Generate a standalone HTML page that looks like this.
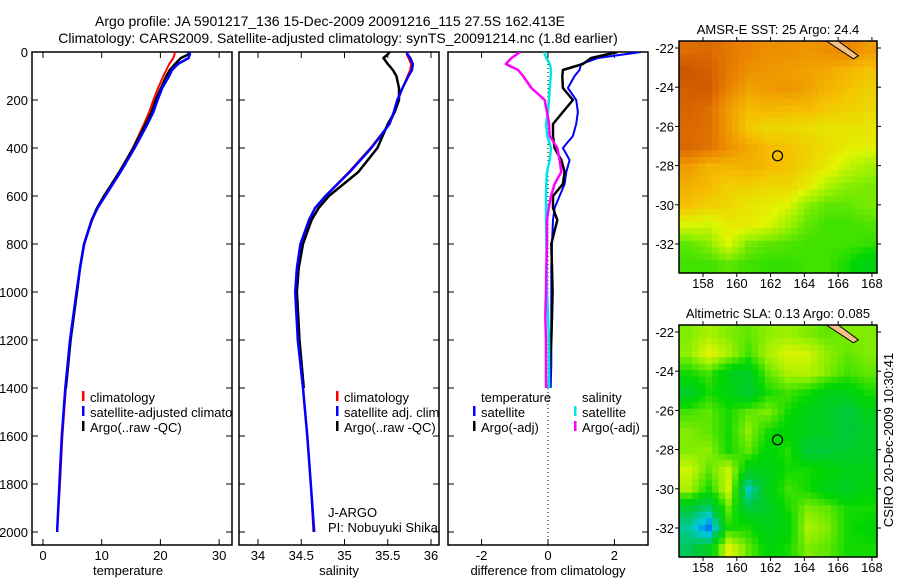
<!DOCTYPE html>
<html><head><meta charset="utf-8"><style>
body{margin:0;background:#fff;}
svg{display:block;font-family:"Liberation Sans",sans-serif;}
text{font-size:13px;fill:#000;}
</style></head><body>
<svg id="c" width="900" height="580" viewBox="0 0 900 580" xmlns="http://www.w3.org/2000/svg">
<g id="g"></g>
</svg>
<script>
// ---- data ----
const depths=[0,10,25,50,75,100,150,200,250,300,400,500,600,650,700,800,900,1000,1200,1400,1600,1800,2000];
const climT=[22.5,22.4,22.2,21.5,21,20.5,19.6,18.8,18.1,17.2,15.3,13.0,10.5,9.3,8.4,7.0,6.3,5.8,4.7,3.9,3.3,2.9,2.4];
const satT=[25,25,24.8,23,22,21.5,20.3,19.5,18.8,17.8,15.6,13.2,10.6,9.3,8.3,7.0,6.3,5.7,4.6,3.8,3.2,2.8,2.4];
const argoT=[24.8,24.8,23.5,22.5,21.6,21.0,20.1,19.2,18.5,17.5,15.4,13.0,10.4,9.2,8.3,7.0,6.3,5.8,4.7,3.9];
const climS=[35.72,35.72,35.74,35.77,35.76,35.73,35.67,35.62,35.58,35.52,35.3,35.05,34.78,34.66,34.6,34.5,34.46,34.44,34.47,34.52,34.57,34.61,34.64];
const satS=[35.72,35.73,35.76,35.79,35.78,35.74,35.67,35.61,35.57,35.52,35.31,35.06,34.78,34.66,34.59,34.49,34.45,34.43,34.46,34.52,34.57,34.61,34.65];
const argoS=[35.52,35.5,35.45,35.5,35.56,35.6,35.63,35.63,35.58,35.5,35.38,35.16,34.82,34.7,34.62,34.52,34.47,34.45,34.48,34.53];
const diffDepths=[0,25,50,75,100,150,200,250,300,350,400,450,500,550,600,650,700,800,900,1000,1100,1200,1300,1400];
const tempSatDiff=[2.8,1.5,1.0,0.95,0.8,0.6,0.85,0.9,0.85,0.75,0.45,0.65,0.55,0.5,0.35,0.2,0.15,0.12,0.1,0.1,0.1,0.1,0.1,0.08];
const tempArgoDiff=[2.1,1.3,1.05,0.45,0.43,0.45,0.75,0.45,0.15,0.15,0.2,0.4,0.5,0.45,0.15,0.15,0.28,0.1,0.12,0.14,0.12,0.1,0.05,0.02];
const salSatDiff=[-0.12,-0.05,0.05,0.09,0.08,0.05,0.03,0.0,-0.06,-0.02,0.09,0.05,-0.03,-0.05,-0.06,-0.06,-0.06,-0.05,-0.04,-0.03,0.0,0.03,0.03,0.03];
const salArgoDiff=[-0.84,-1.1,-1.27,-0.9,-0.75,-0.5,-0.1,-0.03,0.03,0.05,0.28,0.35,0.4,0.2,0.09,0.02,-0.03,-0.03,-0.05,-0.06,-0.08,-0.06,-0.06,-0.06];
const depthTicks=[0,200,400,600,800,1000,1200,1400,1600,1800,2000];
const tTicks=[0,10,20,30];
const sTicks=[34,34.5,35,35.5,36];
const dTicks=[-2,0,2];
const lonTicks=[158,160,162,164,166,168];
const latTicks=[-22,-24,-26,-28,-30,-32];
const sstGrid=[
[26.2,26.3,26,25.8,25.6,25.6,25.5,25.6,25.8,25.4],
[26.7,26.5,26,25.6,25.5,25.4,25.3,25.2,25.0,24.8],
[26.5,26.6,25.8,25.3,25.4,25.5,25.3,25.0,24.8,24.6],
[26.4,26.2,25.4,24.9,25.0,24.9,24.9,24.7,24.6,24.5],
[26.3,26.2,25.4,24.7,24.5,24.5,24.4,24.3,24.3,24.3],
[26.3,26.1,25.6,25.2,24.9,24.8,24.6,24.4,24.2,24.1],
[25.4,25.0,25.0,25.1,24.9,24.8,24.5,24.2,23.8,23.5],
[25.1,24.9,24.6,24.6,24.5,24.5,24.2,23.6,23.3,23.2],
[24.8,24.6,24.5,24.3,24.2,24.0,23.3,23.0,23.0,23.2],
[24.0,23.9,24.2,24.2,24.0,23.5,23.0,22.8,22.8,22.9],
[23.0,23.3,24.0,23.2,23.0,22.9,22.8,22.8,22.8,22.7],
[22.8,22.8,23.0,22.8,22.7,22.7,22.8,22.8,22.5,22.0]];
const slaGrid=[
[0.12,0.15,0.12,0.10,0.13,0.14,0.12,0.10,0.12,0.12],
[0.13,0.20,0.15,0.08,0.15,0.19,0.18,0.13,0.10,0.12],
[0.05,0.08,0.00,-0.02,0.10,0.15,0.16,0.12,0.08,0.10],
[-0.03,0.05,0.02,-0.04,0.05,0.08,0.05,0.00,0.00,0.05],
[0.08,0.10,0.05,0.10,0.12,0.05,0.00,-0.02,-0.06,0.00],
[0.12,0.10,0.05,0.13,0.05,0.02,0.00,-0.02,-0.06,-0.02],
[0.12,0.13,0.05,0.10,0.02,0.06,-0.05,-0.05,-0.03,-0.02],
[0.18,0.10,0.17,0.00,0.00,0.05,0.05,0.03,0.00,0.00],
[0.15,0.05,0.18,-0.15,0.00,0.08,0.05,0.00,-0.02,0.02],
[-0.05,-0.10,0.10,-0.05,-0.02,0.05,0.12,0.10,0.05,0.05],
[-0.12,-0.25,0.05,0.05,0.00,0.02,0.15,0.12,0.05,0.03],
[-0.08,-0.02,0.20,0.10,0.02,0.05,0.12,0.10,0.05,0.05]];
const argoLon=162.413, argoLat=-27.5;

// ---- helpers ----
const NS="http://www.w3.org/2000/svg";
const G=document.getElementById('g');
function mk(tag,attrs,parent){const e=document.createElementNS(NS,tag);for(const k in attrs)e.setAttribute(k,attrs[k]);(parent||G).appendChild(e);return e;}
function txt(x,y,s,anchor,parent){const t=mk('text',{x:x,y:y,'text-anchor':anchor||'start'},parent);t.textContent=s;return t;}
const TOP=52,BOT=545;
const yD=d=>52+0.24*d;
const xT=v=>43+5.87*v;
const xS=v=>258+86.5*(v-34);
const xD=v=>548+33.2*v;
const P=[{l:32,r:232},{l:239,r:439},{l:448,r:648}];

function panel(i,name,xf,ticks,label,lblX){
  const p=P[i];
  const b=mk('rect',{x:p.l,y:TOP,width:p.r-p.l,height:BOT-TOP,fill:'none',stroke:'#000','stroke-width':1.5});
  
  
  depthTicks.forEach(d=>{
    mk('line',{x1:p.l,x2:p.l+6,y1:yD(d),y2:yD(d),stroke:'#000'});
    mk('line',{x1:p.r-6,x2:p.r,y1:yD(d),y2:yD(d),stroke:'#000'});
  });
  ticks.forEach(v=>{
    mk('line',{x1:xf(v),x2:xf(v),y1:TOP,y2:TOP+6,stroke:'#000'});
    mk('line',{x1:xf(v),x2:xf(v),y1:BOT-6,y2:BOT,stroke:'#000'});
    const t=txt(xf(v),560,String(v),'middle');
    
    
  });
  const lt=txt(lblX,575,label,'middle');
  
  
}
function line(xs,ds,xf,color,w,name,clipId){
  const pts=xs.map((v,i)=>xf(v).toFixed(1)+','+yD(ds[i]).toFixed(1)).join(' ');
  const pl=mk('polyline',{points:pts,fill:'none',stroke:color,'stroke-width':w,'stroke-linejoin':'round','clip-path':'url(#'+clipId+')'});
  
  
}
const defs=mk('defs',{});
P.forEach((p,i)=>{const c=mk('clipPath',{id:'cp'+i},defs);mk('rect',{x:p.l,y:TOP,width:p.r-p.l,height:BOT-TOP},c);});

// title
const t1=txt(330,26,'Argo profile: JA 5901217_136 15-Dec-2009 20091216_115 27.5S 162.413E','middle');


t1.setAttribute('style','font-size:14px');
const t2=txt(338,43,'Climatology: CARS2009. Satellite-adjusted climatology: synTS_20091214.nc (1.8d earlier)','middle');


t2.setAttribute('style','font-size:14px');

panel(0,'temperature-panel',xT,tTicks,'temperature',128);
panel(1,'salinity-panel',xS,sTicks,'salinity',339);
panel(2,'difference-panel',xD,dTicks,'difference from climatology',548);
depthTicks.forEach(d=>{
  const t=txt(28,yD(d)+5,String(d),'end');
  
  
});

// profiles
line(climT,depths,xT,'#ff0000',2,'temperature-climatology-line','cp0');
line(argoT,depths,xT,'#000',2.5,'temperature-argo-line','cp0');
line(satT,depths,xT,'#0000ff',2.5,'temperature-satellite-line','cp0');
line(climS,depths,xS,'#ff0000',2,'salinity-climatology-line','cp1');
line(argoS,depths,xS,'#000',2.5,'salinity-argo-line','cp1');
line(satS,depths,xS,'#0000ff',2.5,'salinity-satellite-line','cp1');
const zl=mk('line',{x1:xD(0),x2:xD(0),y1:TOP,y2:BOT,stroke:'#000','stroke-dasharray':'1,3'});


line(tempSatDiff,diffDepths,xD,'#0000ff',2,'temperature-satellite-diff-line','cp2');
line(tempArgoDiff,diffDepths,xD,'#000',2.5,'temperature-argo-diff-line','cp2');
line(salSatDiff,diffDepths,xD,'#00e5e5',2.5,'salinity-satellite-diff-line','cp2');
line(salArgoDiff,diffDepths,xD,'#ff00ff',2.5,'salinity-argo-diff-line','cp2');

// legends
function leg(x,y,color,label,name,clip){
  const g=mk('g',{'clip-path':clip?'url(#'+clip+')':''});
  
  
  if(color)mk('rect',{x:x,y:y-11,width:2.5,height:10,fill:color},g);
  txt(x+8,y,label,'start',g);
}
leg(82,402,'#ff0000','climatology','legend-climatology','cp0');
leg(82,417,'#0000ff','satellite-adjusted climatology','legend-satellite-adjusted','cp0');
leg(82,432,'#000','Argo(..raw -QC)','legend-argo','cp0');
leg(336,402,'#ff0000','climatology','legend-sal-climatology','cp1');
leg(336,417,'#0000ff','satellite adj. clim.','legend-sal-satellite','cp1');
leg(336,432,'#000','Argo(..raw -QC)','legend-sal-argo','cp1');
leg(320,517,null,'J-ARGO','program-label','cp1');
leg(320,532,null,'PI: Nobuyuki Shikama','pi-label','cp1');
leg(473,402,null,'temperature','legend-temperature-header','cp2');
leg(473,417,'#0000ff','satellite','legend-temp-satellite','cp2');
leg(473,432,'#000','Argo(-adj)','legend-temp-argo','cp2');
leg(574,402,null,'salinity','legend-salinity-header','cp2');
leg(574,417,'#00e5e5','satellite','legend-sal-sat-diff','cp2');
leg(574,432,'#ff00ff','Argo(-adj)','legend-sal-argo-diff','cp2');

// maps
const ML=679,MR=877,LON0=156.58,LON1=168.3;
const xLon=v=>ML+(v-LON0)*(MR-ML)/(LON1-LON0);
const stops=[[0,[0,80,255]],[0.18,[0,200,220]],[0.32,[0,200,60]],[0.45,[0,215,0]],[0.58,[150,240,0]],[0.66,[225,245,0]],[0.76,[245,190,0]],[0.88,[235,130,0]],[1,[200,80,0]]];
function cmap(f){f=Math.max(0,Math.min(1,f));for(let i=1;i<stops.length;i++){if(f<=stops[i][0]){const a=stops[i-1],b=stops[i],t=(f-a[0])/(b[0]-a[0]);return 'rgb('+a[1].map((c,k)=>Math.round(c+(b[1][k]-c)*t)).join(',')+')';}}return 'rgb(200,80,0)';}
function sample(grid,fr,fc){ // bilinear display smoothing between cell centres
  const R=grid.length,C=grid[0].length;
  fr=Math.max(0,Math.min(R-1,fr));fc=Math.max(0,Math.min(C-1,fc));
  const r0=Math.floor(fr),c0=Math.floor(fc),r1=Math.min(R-1,r0+1),c1=Math.min(C-1,c0+1),a=fr-r0,b=fc-c0;
  return grid[r0][c0]*(1-a)*(1-b)+grid[r0][c1]*(1-a)*b+grid[r1][c0]*a*(1-b)+grid[r1][c1]*a*b;
}
function map(top,bot,lat22,grid,vmin,vmax,title,name){
  const yLat=v=>lat22+(-22-v)*19.6;
  const rows=grid.length,cols=grid[0].length,S=3;
  const cw=(MR-ML)/(cols*S),ch=(bot-top)/(rows*S);
  const g=mk('g',{});
  
  
  for(let r=0;r<rows*S;r++)for(let c=0;c<cols*S;c++){
    const v=sample(grid,(r+0.5)/S-0.5,(c+0.5)/S-0.5);
    const cell=mk('rect',{x:(ML+c*cw).toFixed(1),y:(top+r*ch).toFixed(1),width:(cw+0.6).toFixed(1),height:(ch+0.6).toFixed(1),fill:cmap((v-vmin)/(vmax-vmin))},g);
    
    
  }
  const land=mk('polygon',{points:[[xLon(165.3),top],[xLon(166.0),top],[xLon(167.2),yLat(-22.4)],[xLon(166.9),yLat(-22.55)]].map(p=>p.join(',')).join(' '),fill:'#f5c08a',stroke:'#000'});
  
  
  const fr=mk('rect',{x:ML,y:top,width:MR-ML,height:bot-top,fill:'none',stroke:'#000','stroke-width':1.5});
  
  
  const ci=mk('circle',{cx:xLon(argoLon),cy:yLat(argoLat),r:5,fill:'none',stroke:'#000','stroke-width':1.2});
  
  
  lonTicks.forEach(v=>{
    mk('line',{x1:xLon(v),x2:xLon(v),y1:top-4,y2:top,stroke:'#000'});
    mk('line',{x1:xLon(v),x2:xLon(v),y1:bot,y2:bot+4,stroke:'#000'});
    const t=txt(xLon(v),bot+15,String(v),'middle');
    
    
  });
  latTicks.forEach(v=>{
    mk('line',{x1:ML-4,x2:ML,y1:yLat(v),y2:yLat(v),stroke:'#000'});
    mk('line',{x1:MR,x2:MR+4,y1:yLat(v),y2:yLat(v),stroke:'#000'});
    const t=txt(ML-5,yLat(v)+5,String(v),'end');
    
    
  });
  const tt=txt(778,top-7,title,'middle');
  
  
}
map(41,273,48,sstGrid,18.7,26.8,'AMSR-E SST: 25 Argo: 24.4','sst-map');
map(325,557,332,slaGrid,-0.3,0.45,'Altimetric SLA: 0.13 Argo: 0.085','sla-map');
const cs=txt(0,0,'CSIRO 20-Dec-2009 10:30:41','middle');
cs.setAttribute('transform','translate(893,440) rotate(-90)');


</script>
</body></html>
